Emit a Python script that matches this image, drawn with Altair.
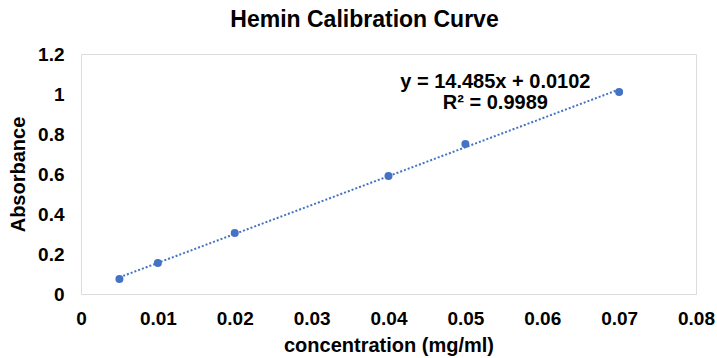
import altair as alt
import pandas as pd

conc = [0.005, 0.01, 0.02, 0.04, 0.05, 0.07]
absorb = [0.075, 0.155, 0.305, 0.59, 0.75, 1.01]
eq_lines = ["y = 14.485x + 0.0102", "R² = 0.9989"]
eq_x = [0.0539, 0.0539]
eq_y = [1.058, 0.955]
x_ticks = [0, 0.01, 0.02, 0.03, 0.04, 0.05, 0.06, 0.07, 0.08]
y_ticks = [0, 0.2, 0.4, 0.6, 0.8, 1.0, 1.2]

df = pd.DataFrame({"conc": conc, "abs": absorb})
eq = pd.DataFrame({"t": eq_lines, "x": eq_x, "y": eq_y})

FONT = "Liberation Sans"
BLUE = "#4472C4"

xs = alt.Scale(domain=[0, 0.08], nice=False, zero=False)
ys = alt.Scale(domain=[0, 1.2], nice=False)

xax = alt.Axis(values=x_ticks, format="~g", grid=False, ticks=False, domain=False,
               labelFont=FONT, labelFontSize=19, labelFontWeight="bold", labelColor="black",
               labelPadding=15, labelOverlap=False, labelFlush=False,
               title="concentration (mg/ml)", titleFont=FONT,
               titleFontSize=20, titleFontWeight="bold", titleColor="black", titlePadding=7)
yax = alt.Axis(values=y_ticks, format="~g", grid=False, ticks=False, domain=False,
               labelFont=FONT, labelFontSize=19, labelFontWeight="bold", labelColor="black",
               labelPadding=17, labelOverlap=False, labelFlush=False,
               title="Absorbance", titleFont=FONT, titleFontSize=20,
               titleFontWeight="bold", titleColor="black", titlePadding=9)

base = alt.Chart(df)

trend = base.transform_regression("conc", "abs", extent=[0.005, 0.07]).mark_line(
    color=BLUE, strokeWidth=2, strokeDash=[2, 2]
).encode(x=alt.X("conc:Q", scale=xs, axis=xax), y=alt.Y("abs:Q", scale=ys, axis=yax))

pts = base.mark_circle(color=BLUE, size=64, opacity=1).encode(
    x=alt.X("conc:Q", scale=xs, axis=xax), y=alt.Y("abs:Q", scale=ys, axis=yax))

txt = alt.Chart(eq).mark_text(font=FONT, fontSize=20, fontWeight="bold", color="black",
                              align="center", baseline="middle").encode(
    x=alt.X("x:Q", scale=xs, axis=xax), y=alt.Y("y:Q", scale=ys, axis=yax), text="t:N")

chart = alt.layer(trend, pts, txt).properties(
    width=615, height=240,
    title=alt.TitleParams("Hemin Calibration Curve", font=FONT, fontSize=23,
                          fontWeight="bold", color="black", anchor="middle", offset=13,
                          dx=-24),
    autosize=alt.AutoSizeParams(type="none"),
    padding={"left": 81, "top": 54, "right": 21, "bottom": 64},
).configure_view(stroke="#222222", strokeWidth=1.5).configure_axis(
    labelOverlap=False
).configure(background="white")

chart.save("out.html", embed_options={"renderer": "svg", "actions": False})
